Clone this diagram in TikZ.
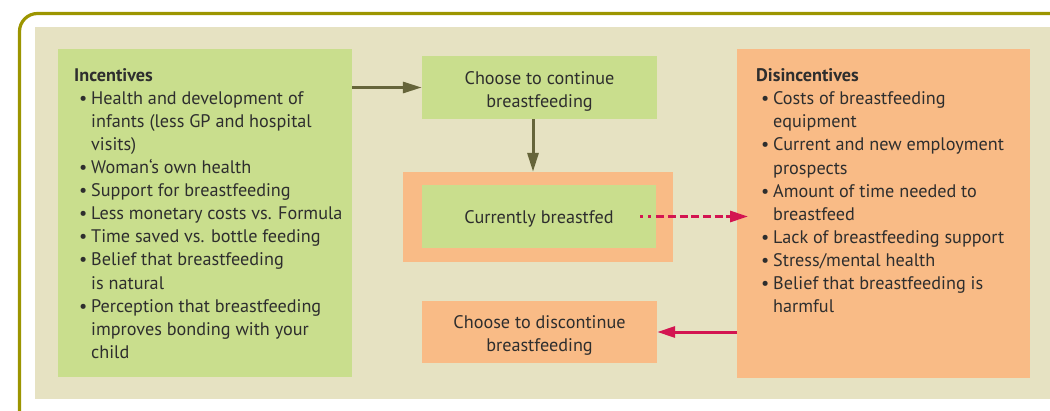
\documentclass[tikz,border=0pt]{standalone}
\usepackage{fontspec}
\setmainfont{PT Sans}
\usetikzlibrary{arrows.meta}
\definecolor{framec}{HTML}{9C9500}
\definecolor{panelc}{HTML}{E6E2C2}
\definecolor{grc}{HTML}{C9DE8D}
\definecolor{ogc}{HTML}{F9BB86}
\definecolor{olvc}{HTML}{66653A}
\definecolor{rdc}{HTML}{D31551}
\definecolor{txtc}{HTML}{2E2E2E}
\newcommand{\bul}{\makebox[17pt][l]{\hspace{5pt}\textbullet}}
\newcommand{\ind}{\hspace*{17pt}}
\begin{document}
\begin{tikzpicture}[x=1pt,y=-1pt,
  every node/.style={font=\fontsize{18.2}{23.1}\selectfont, text=txtc},
  gbox/.style={fill=grc, draw=none, inner sep=0pt},
  obox/.style={fill=ogc, draw=none, inner sep=0pt},
  listtext/.style={align=left, inner sep=0pt, anchor=north west},
  boxtext/.style={align=center, inner sep=0pt},
  oarrow/.style={draw=olvc, line width=3pt, -{Triangle[length=19pt,width=11pt]}},
  rarrow/.style={draw=rdc, line width=3pt, -{Triangle[length=18pt,width=11pt]}},
  dashpat/.style={dash pattern=on 3pt off 5pt on 3pt off 5pt on 8pt off 3.7pt on 8pt off 3.7pt on 8pt off 3.7pt on 8pt off 3.7pt on 8pt off 3.7pt on 8pt off 3.7pt on 8pt off 3.7pt on 8pt off 3.7pt}
]
\useasboundingbox (0,0) rectangle (1050,410);
\clip (0,0) rectangle (1050,410);
% frame and panel
\draw[framec, line width=3.2pt, rounded corners=18pt, fill=white] (19.5,13.5) rectangle (1080,440);
\fill[panelc] (35,27) rectangle (1070,398.5);
% side boxes
\node[gbox, minimum width=294pt, minimum height=328pt, anchor=north west] (inc) at (58,49) {};
\node[obox, minimum width=293pt, minimum height=329pt, anchor=north west] (dis) at (737,49) {};
% middle boxes
\node[gbox, minimum width=235pt, minimum height=63pt] (cont) at (539.5,87.5) {};
\node[obox, minimum width=270pt, minimum height=90pt] (curo) at (538,217) {};
\node[gbox, minimum width=234pt, minimum height=63pt] (cur) at (539,216.5) {};
\node[obox, minimum width=235pt, minimum height=62pt] (disc) at (539.5,332) {};
\node[boxtext] (contt) at ([yshift=-3.5pt]cont.center) {Choose to continue\\breastfeeding};
\node[boxtext] (curt) at ([yshift=-2pt]cur.center) {Currently breastfed};
\node[boxtext] (disct) at ([yshift=-3.5pt]disc.center) {Choose to discontinue\\breastfeeding};
% list texts
\node[listtext] (inct) at (74,68) {\textbf{Incentives}\\
\bul Health and development of\\
\ind infants (less GP and hospital\\
\ind visits)\\
\bul Woman‘s own health\\
\bul Support for breastfeeding\\
\bul Less monetary costs vs. Formula\\
\bul Time saved vs. bottle feeding\\
\bul Belief that breastfeeding\\
\ind is natural\\
\bul Perception that breastfeeding\\
\ind improves bonding with your\\
\ind child};
\node[listtext] (dist) at (756,68.5) {\textbf{Disincentives}\\
\bul Costs of breastfeeding\\
\ind equipment\\
\bul Current and new employment\\
\ind prospects\\
\bul Amount of time needed to\\
\ind breastfeed\\
\bul Lack of breastfeeding support\\
\bul Stress/mental health\\
\bul Belief that breastfeeding is\\
\ind harmful};
% connectors
\coordinate (vx) at (533,0);
\draw[oarrow] (inc.east |- cont.west) -- (cont.west);
\draw[oarrow] (cont.south -| vx) -- (curo.north -| vx);
\draw[rarrow, dashpat] ([xshift=-16pt]cur.east) -- ([xshift=11pt]dis.west |- cur.east);
\draw[rarrow] (dis.west |- disc.east) -- (disc.east);
\end{tikzpicture}
\end{document}
